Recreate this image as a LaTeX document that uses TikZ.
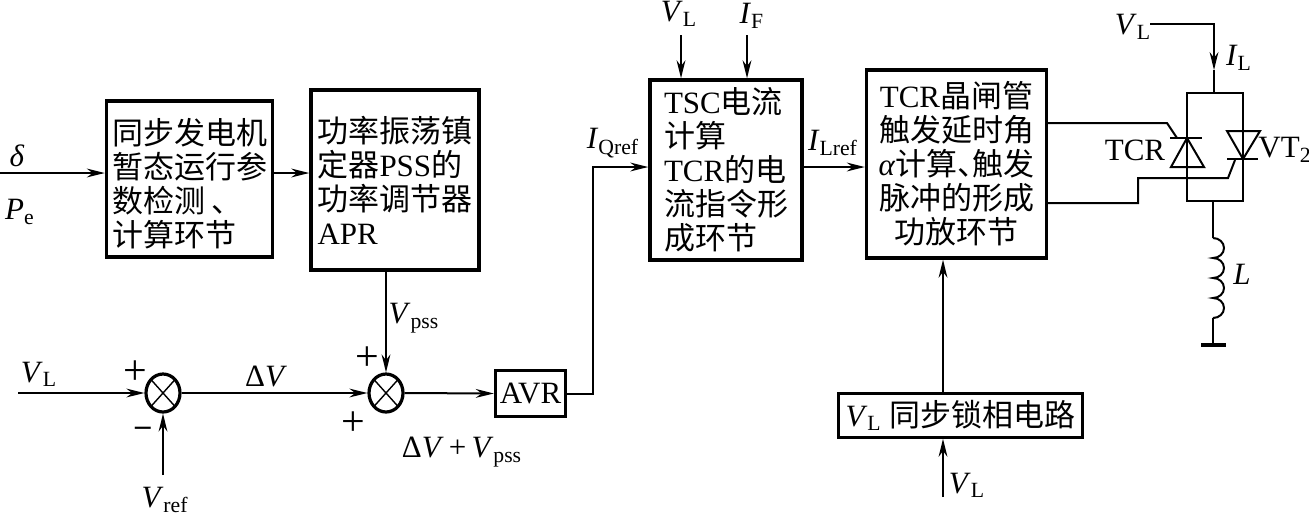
\documentclass[tikz,border=0pt]{standalone}
\usepackage{fontspec}
\setmainfont{Liberation Serif}
\newfontfamily\cjk{Noto Sans CJK SC}
\usepackage{tikz}
\usetikzlibrary{arrows.meta,shapes.geometric}
\newcommand{\lbl}[2]{\textit{#1}$_{\mathrm{#2}}$}
\tikzset{
  txt/.style={font=\fontsize{15.5}{16.5}\selectfont, inner sep=0pt},
  signtxt/.style={font=\fontsize{21}{22}\selectfont, inner sep=0pt},
  blockbox/.style={draw, line width=1.7pt, inner sep=0pt, font=\fontsize{15.5}{16.5}\selectfont},
  sumnode/.style={draw, ellipse, line width=1.6pt, minimum width=17pt, minimum height=19pt, inner sep=0pt,
    path picture={\draw[line width=0.7pt] (path picture bounding box.north west) -- (path picture bounding box.south east)
      (path picture bounding box.north east) -- (path picture bounding box.south west);}},
  wire/.style={line width=1pt}
}
\begin{document}
\begin{tikzpicture}[x=0.5pt, y=-0.5pt, wire, >={Stealth[length=9pt,width=4.4pt]}]
    \useasboundingbox (0,0) rectangle (1309,515);
    % blocks
    \node[blockbox, minimum width=83pt, minimum height=78pt, align=left] (detect) at (189.5,179)
        {\rule{0pt}{18pt}\cjk 同步发电机\\[0.5pt]\cjk 暂态运行参\\[0.5pt]\cjk 数检测 、\\[0.5pt]\cjk 计算环节};
    \node[blockbox, minimum width=84pt, minimum height=90pt, align=left] (pss) at (395,180)
        {{\cjk 功率振荡镇}\\[0.5pt]{\cjk 定器}PSS{\cjk 的}\\[0.5pt]{\cjk 功率调节器}\\[0.5pt]APR};
    \node[blockbox, minimum width=76pt, minimum height=90pt, align=left] (tsc) at (726,170)
        {TSC{\cjk 电流}\\[0.5pt]{\cjk 计算}\\[0.5pt]TCR{\cjk 的电}\\[0.5pt]{\cjk 流指令形}\\[0.5pt]{\cjk 成环节}};
    \node[blockbox, minimum width=90pt, minimum height=94pt, align=center] (fire) at (956.5,164)
        {TCR{\cjk 晶闸管}\\[0.5pt]{\cjk 触发延时角}\\[0.5pt]\textit{α}{\cjk 计算、}\hspace{-8pt}{\cjk 触发}\\[0.5pt]{\cjk 脉冲的形成}\\[0.5pt]{\cjk 功放环节}};
    \node[blockbox, minimum width=35pt, minimum height=23pt] (avr) at (530.5,393.5) {AVR};
    \node[blockbox, line width=1.3pt, minimum width=122pt, minimum height=22pt] (pll) at (960.5,415.5) {\lbl{V}{L} {\cjk 同步锁相电路}};
    \node[sumnode] (sumA) at (163,393) {};
    \node[sumnode] (sumB) at (386,393) {};
    % free ends
    \coordinate (deltaIn) at (0,173);
    \coordinate (vlIn) at (18,393);
    \coordinate (vrefIn) at (163,475);
    \coordinate (vlTsc) at (681,35);
    \coordinate (ifTsc) at (747,35);
    \coordinate (vlPll) at (943,497);
    % connectors
    \draw[->] (deltaIn) -- (deltaIn -| detect.west);
    \draw[->] (detect.east |- deltaIn) -- (pss.west |- deltaIn);
    \draw[->] (sumB |- pss.south) -- (sumB.north);
    \draw[->] (vlIn) -- (sumA.west);
    \draw[->] (vrefIn) -- (sumA.south);
    \draw[->] (sumA.east) -- (sumB.west);
    \draw[->] (sumB.east) -- (avr.west);
    \draw[->] (avr.east) -- (593,393.5) -- (593,167) -- (tsc.west |- 0,167);
    \draw[->] (tsc.east |- 0,167) -- (fire.west |- 0,167);
    \draw[->] (vlTsc) -- (vlTsc |- tsc.north);
    \draw[->] (ifTsc) -- (ifTsc |- tsc.north);
    \draw[->] (vlPll) -- (vlPll |- pll.south);
    \draw[->] (pll.north -| vlPll) -- (vlPll |- fire.south);
    % thyristors and reactor
    \coordinate (vlTcr) at (1150,24);
    \coordinate (tcrTop) at (1214,93);
    \coordinate (tcrBot) at (1213,201);
    \coordinate (coilTop) at (1213,238);
    \coordinate (coilBot) at (1213,318);
    \coordinate (gnd) at (1213,345);
    \draw[->] (vlTcr) -- (vlTcr -| tcrTop) -- (1214,70);
    \draw (1214,70) -- (tcrTop);
    \draw (1187,93) rectangle (1243,201);
    \draw (1170,138) -- (1202,138);
    \draw (1187,138) -- (1171,167) -- (1204,167) -- cycle;
    \draw (1227,131) -- (1260,131) -- (1243,159) -- cycle;
    \draw (1227,159) -- (1258,159);
    \draw (fire.east |- 0,123) -- (1167,123) -- (1177,138);
    \draw (fire.east |- 0,203) -- (1138,203) -- (1138,178) -- (1228,178) -- (1235,160);
    \draw (tcrBot) -- (coilTop);
    \draw (coilTop) arc[start angle=-90, end angle=90, x radius=11, y radius=10]
        arc[start angle=-90, end angle=90, x radius=11, y radius=10]
        arc[start angle=-90, end angle=90, x radius=11, y radius=10]
        arc[start angle=-90, end angle=90, x radius=11, y radius=10];
    \draw (coilBot) -- (gnd);
    \draw[line width=1.6pt] (1201,345) -- (1226,345);
    % labels
    \node[txt] (lDelta) at (17,156) {\textit{δ}};
    \node[txt] (lPe) at (20,212) {\lbl{P}{e}};
    \node[txt] (lVl) at (39,374) {\lbl{V}{L}};
    \node[signtxt] (lPlusA) at (135,373) {+};
    \node[txt] (lMinus) at (143,431) {\textbf{--}};
    \node[txt] (lVref) at (165,500) {\lbl{V}{ref}};
    \node[txt] (lDv) at (266,376) {Δ\textit{V}};
    \node[signtxt] (lPlusB) at (367,359) {+};
    \node[signtxt] (lPlusC) at (353,424) {+};
    \node[txt] (lVpss) at (414,318) {\lbl{V}{pss}};
    \node[txt] (lSum) at (462,452) {Δ\textit{V}\,+\,\lbl{V}{pss}};
    \node[txt] (lIq) at (613,143) {\lbl{I}{Qref}};
    \node[txt] (lIl) at (833,143) {\lbl{I}{Lref}};
    \node[txt] (lVt) at (679,14) {\lbl{V}{L}};
    \node[txt] (lIf) at (752,16) {\lbl{I}{F}};
    \node[txt] (lVlr) at (1133,27) {\lbl{V}{L}};
    \node[txt] (lIr) at (1239,58) {\lbl{I}{L}};
    \node[txt] (lTcr) at (1135,150) {TCR};
    \node[txt] (lVt2) at (1285,150) {VT$_{\mathrm{2}}$};
    \node[txt] (lL) at (1242,274) {\textit{L}};
    \node[txt] (lVlp) at (967,485) {\lbl{V}{L}};
\end{tikzpicture}
\end{document}
